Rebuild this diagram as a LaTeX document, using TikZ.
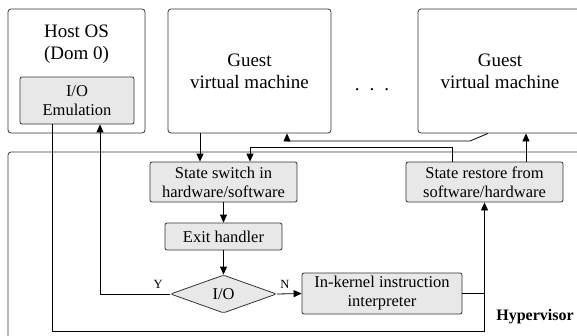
\documentclass[tikz,border=0pt]{standalone}
\usepackage{fontspec}
\setmainfont{Liberation Serif}
\usetikzlibrary{arrows.meta,shapes.geometric,positioning}

\begin{document}
\begin{tikzpicture}
	[x=1pt,y=-1pt,line width=.8pt,
	 every node/.style={align=center,inner sep=0pt},
	 bigtext/.style={font=\fontsize{19}{22}\selectfont},
	 big/.style={bigtext,draw=black!80,rounded corners=3pt},
	 unit/.style={draw=black!80,fill=black!9,rounded corners=2pt,font=\fontsize{16.5}{19}\selectfont},
	 yn/.style={font=\fontsize{12.5}{12.5}\selectfont}]
	\tikzset{edge/.style = {->,> = {Triangle[length=8pt,width=7pt]}}}
	\useasboundingbox (0,0) rectangle (577,335);
	% boxes
	\node[big,minimum width=584,minimum height=200] (hyper) at (300,252) {};
	\node[big,minimum width=137,minimum height=124] (host) at (76.5,71) {};
	\node[bigtext] (hostlbl) at (76.5,44) {Host OS\\(Dom 0)};
	\node[unit,minimum width=114,minimum height=47] (ioemu) at (77,100.5) {I/O\\Emulation};
	\node[big,minimum width=163,minimum height=124] (guest1) at (249.5,71) {Guest\\virtual machine};
	\node[big,minimum width=164,minimum height=124] (guest2) at (500,71) {Guest\\virtual machine};
	\node[font=\fontsize{19}{19}\selectfont] (dots) at (372,90) {.\hspace{10pt}.\hspace{10pt}.};
	\node[unit,minimum width=147,minimum height=40] (switch) at (223.5,182) {State switch in\\hardware/software};
	\node[unit,minimum width=117,minimum height=27] (exit) at (223.5,236.5) {Exit handler};
	\node[unit,shape=diamond,aspect=2.8,minimum width=106,minimum height=38] (io) at (223.5,294) {I/O};
	\node[unit,minimum width=160,minimum height=41] (interp) at (382,293.5) {In-kernel instruction\\interpreter};
	\node[unit,minimum width=157,minimum height=40] (restore) at (484.5,182) {State restore from\\software/hardware};
	\node[font=\fontsize{16}{16}\selectfont\bfseries] (hyperlbl) at (535,317) {Hypervisor};
	\node[yn,above left=5pt and 7pt of io.west] (ylbl) {Y};
	\node[yn,above right=5pt and 3pt of io.east] (nlbl) {N};
	% columns
	\coordinate (emucol) at (52,0);
	\coordinate (ycol) at (100,0);
	\coordinate (incol) at (200,0);
	\coordinate (backcol) at (250,0);
	\coordinate (retcol) at (287,0);
	\coordinate (outcol) at (452,0);
	\coordinate (upcol) at (526,0);
	\coordinate (kink) at (470,141);
	\coordinate (kinkb) at (488,0);
	% connectors
	\foreach \from/\to in {switch.south/exit.north,exit.south/io.north,io.east/interp.west}
	\draw[edge] (\from)--(\to);
	\draw[edge] (guest1.south -| incol) -- (switch.north -| incol);
	\draw[edge] (restore.north -| outcol) -- (outcol |- 0,147) -| (switch.north -| backcol);
	\draw[edge] (guest2.south -| kinkb) -- (kink) -| (guest1.south -| retcol);
	\draw[edge] (restore.north -| upcol) -- (guest2.south -| upcol);
	\draw[edge] (io.west) -| (ioemu.south -| ycol);
	\draw[edge] (interp.east) -| (restore.south);
	\draw (ioemu.south -| emucol) |- (restore.south |- 0,331) -- (restore.south |- interp.east);
\end{tikzpicture}
\end{document}
